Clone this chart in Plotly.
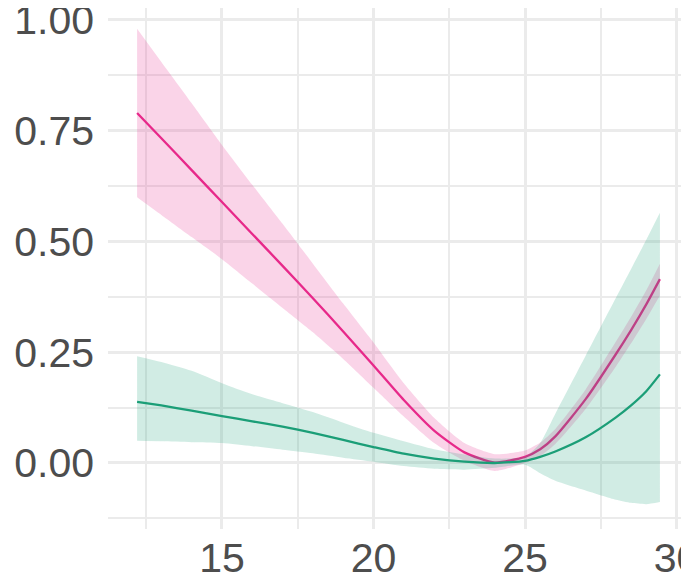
import plotly.graph_objects as go

x_vals = [12.2, 13, 14, 15, 16, 17, 18, 19, 20, 21, 22, 23, 24, 25, 25.5, 26, 27, 28, 28.5, 29, 29.45]

pink_fit = [0.790, 0.733, 0.661, 0.589, 0.517, 0.445, 0.372, 0.297, 0.220, 0.142, 0.073, 0.024, 0.001, 0.014, 0.031, 0.060, 0.144, 0.246, 0.300, 0.358, 0.415]
pink_lo = [0.600, 0.560, 0.510, 0.460, 0.405, 0.350, 0.295, 0.235, 0.170, 0.105, 0.045, 0.005, -0.018, 0.000, 0.016, 0.043, 0.122, 0.218, 0.270, 0.325, 0.378]
pink_hi = [0.980, 0.905, 0.812, 0.718, 0.628, 0.540, 0.450, 0.360, 0.272, 0.180, 0.102, 0.045, 0.020, 0.028, 0.046, 0.077, 0.166, 0.274, 0.330, 0.390, 0.450]

green_fit = [0.138, 0.130, 0.118, 0.106, 0.094, 0.082, 0.068, 0.052, 0.036, 0.021, 0.010, 0.003, 0.000, 0.005, 0.014, 0.026, 0.058, 0.103, 0.130, 0.162, 0.200]
green_lo = [0.050, 0.049, 0.047, 0.045, 0.038, 0.030, 0.022, 0.012, 0.003, -0.007, -0.013, -0.015, -0.011, -0.004, -0.023, -0.040, -0.062, -0.083, -0.090, -0.093, -0.088]
green_hi = [0.241, 0.228, 0.208, 0.180, 0.155, 0.135, 0.115, 0.091, 0.068, 0.049, 0.031, 0.019, 0.010, 0.014, 0.045, 0.111, 0.242, 0.373, 0.438, 0.504, 0.565]

x_ticks = [15, 20, 25, 30]
y_ticks = [0.00, 0.25, 0.50, 0.75, 1.00]
y_tick_text = ["0.00", "0.25", "0.50", "0.75", "1.00"]

PINK = "#E7298A"
GREEN = "#1B9E77"

fig = go.Figure()


def ribbon(lo, hi, fill):
    fig.add_trace(go.Scatter(x=x_vals, y=lo, mode="lines", line=dict(width=0, shape="spline", smoothing=0.6),
                             showlegend=False, hoverinfo="skip"))
    fig.add_trace(go.Scatter(x=x_vals, y=hi, mode="lines", line=dict(width=0, shape="spline", smoothing=0.6),
                             fill="tonexty", fillcolor=fill, showlegend=False, hoverinfo="skip"))


ribbon(pink_lo, pink_hi, "rgba(231,41,138,0.2)")
fig.add_trace(go.Scatter(x=x_vals, y=pink_fit, mode="lines",
                         line=dict(color=PINK, width=2.3, shape="spline", smoothing=0.6),
                         showlegend=False))
ribbon(green_lo, green_hi, "rgba(27,158,119,0.2)")
fig.add_trace(go.Scatter(x=x_vals, y=green_fit, mode="lines",
                         line=dict(color=GREEN, width=2.3, shape="spline", smoothing=0.6),
                         showlegend=False))

grid = "#EBEBEB"
fig.update_layout(
    width=681, height=573,
    margin=dict(l=100, r=0, t=0, b=52),
    paper_bgcolor="white", plot_bgcolor="white",
    font=dict(family="Liberation Sans, Arial, sans-serif", size=41, color="#4D4D4D"),
    showlegend=False,
)
fig.update_xaxes(
    range=[11.24, 30.41], tickvals=x_ticks, ticktext=[str(v) for v in x_ticks],
    showgrid=True, gridcolor=grid, gridwidth=2.5, zeroline=False, showline=False,
    ticks="", ticklabelstandoff=1, automargin=False, ticklabeloverflow="allow",
    minor=dict(tickvals=[12.5, 17.5, 22.5, 27.5], showgrid=True, gridcolor=grid, gridwidth=2),
)
fig.update_yaxes(
    range=[-0.149, 1.027], tickvals=y_ticks, ticktext=y_tick_text,
    showgrid=True, gridcolor=grid, gridwidth=2.5, zeroline=False, showline=False,
    ticks="", ticklabelstandoff=13, automargin=False, ticklabeloverflow="allow",
    minor=dict(tickvals=[-0.125, 0.125, 0.375, 0.625, 0.875], showgrid=True, gridcolor=grid, gridwidth=2),
)

fig.write_html("out.html")
